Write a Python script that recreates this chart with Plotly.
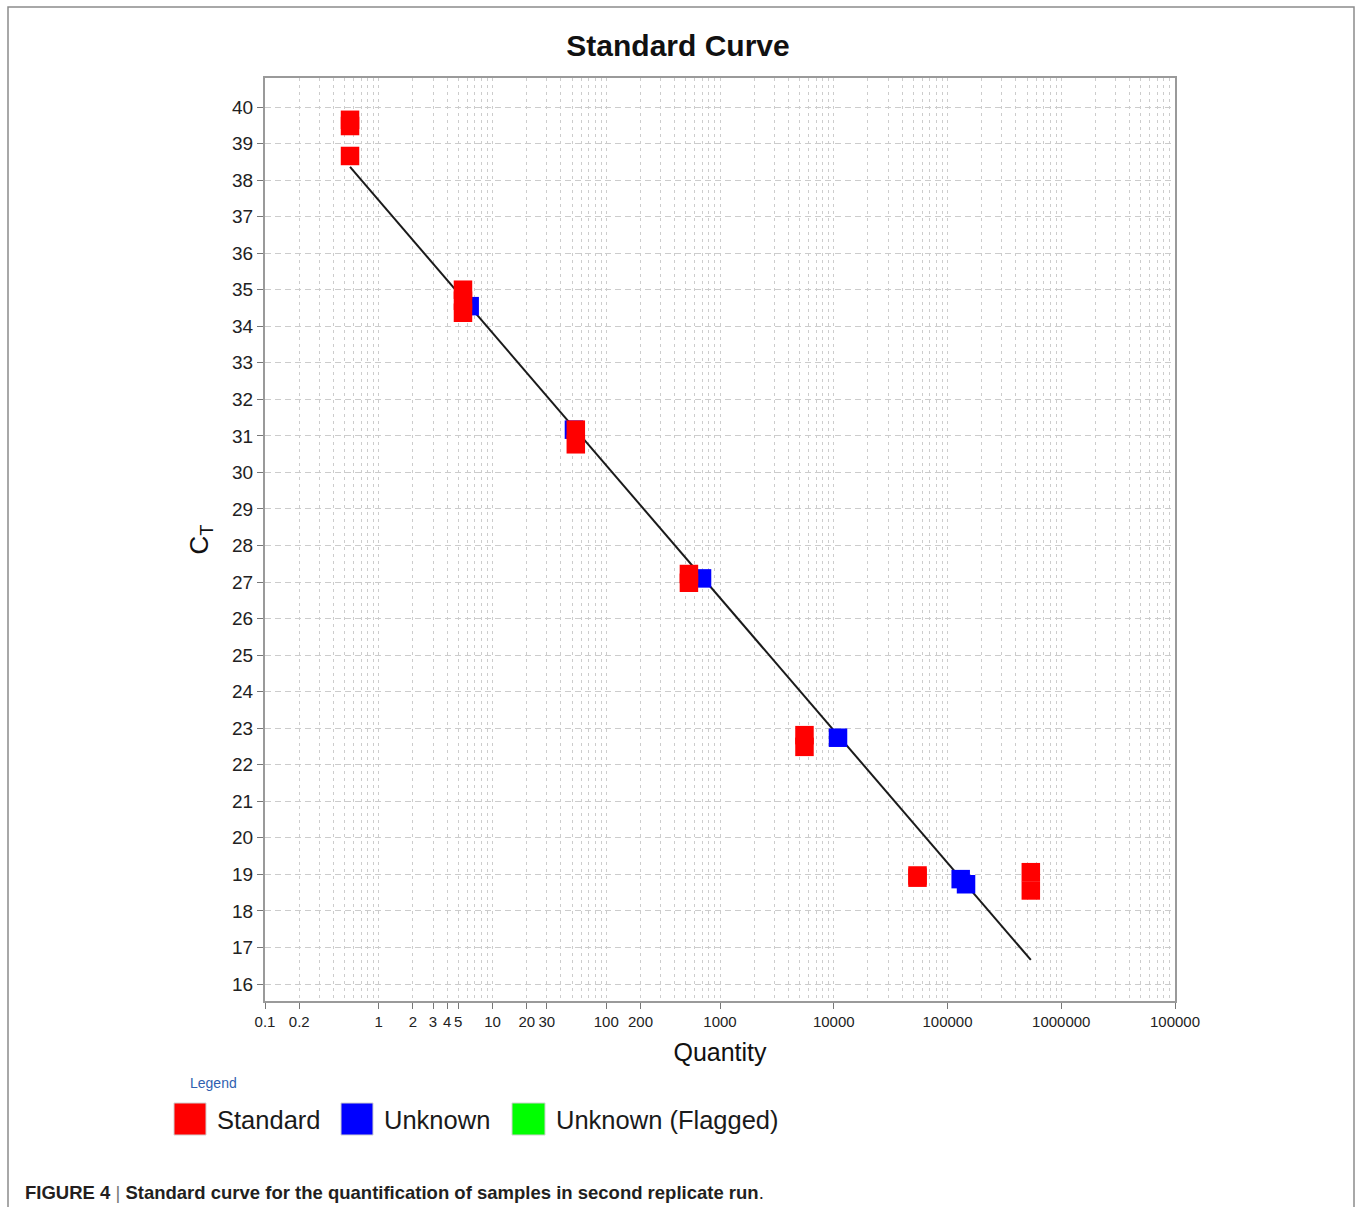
import plotly.graph_objects as go

# ---------------- data ----------------
std_qty = [0.559, 0.559, 0.559, 5.5, 5.5, 5.5, 54, 54, 533, 533, 5530, 5530, 54500, 54500, 540000, 540000]
std_ct = [39.65, 39.48, 38.66, 35.00, 34.70, 34.37, 31.17, 30.77, 27.22, 26.98, 22.81, 22.49, 18.97, 18.91, 19.06, 18.56]

unk_qty = [6.3, 52, 695, 10900, 130600, 145500]
unk_ct = [34.55, 31.17, 27.10, 22.74, 18.87, 18.73]

fit_qty = [0.559, 540000]
fit_ct = [38.36, 16.66]

x_tickvals = [0.1, 0.2, 1, 2, 3, 4, 5, 10, 20, 30, 100, 200, 1000, 10000, 100000, 1000000, 10000000]
x_ticktext = ["0.1", "0.2", "1", "2", "3", "4", "5", "10", "20", "30", "100", "200",
              "1000", "10000", "100000", "1000000", "100000"]
x_minor_vals = [m * 10.0 ** k for k in range(-1, 7) for m in range(1, 10)] + [1e7]
y_tickvals = list(range(16, 41))

legend_names = ["Standard", "Unknown", "Unknown (Flagged)"]
legend_colors = ["#ff0000", "#0000ff", "#00ff00"]

# ---------------- layout geometry (page pixels) ----------------
W, H = 1356, 1207
L, R, T, B = 265, 1175, 78, 1001


def px(x):
    return (x - L) / (R - L)


def py(y):
    return (B - y) / (B - T)


SANS = "Liberation Sans, Arial, sans-serif"

fig = go.Figure()

fig.add_trace(go.Scatter(
    x=fit_qty, y=fit_ct, mode="lines",
    line=dict(color="#1a1a1a", width=2), showlegend=False, hoverinfo="skip"))

fig.add_trace(go.Scatter(
    x=unk_qty, y=unk_ct, mode="markers", name=legend_names[1],
    marker=dict(symbol="square", size=18.5, color="#0000ff", line=dict(width=0)),
    showlegend=False))

fig.add_trace(go.Scatter(
    x=std_qty, y=std_ct, mode="markers", name=legend_names[0],
    marker=dict(symbol="square", size=18.5, color="#ff0000", line=dict(width=0)),
    showlegend=False))

shapes = []
annotations = []

# outer figure border
shapes.append(dict(type="rect", xref="paper", yref="paper",
                   x0=px(8), x1=px(1354), y0=py(1215), y1=py(7),
                   line=dict(color="#8c8c8c", width=1.5), layer="below"))

# manual legend
leg_boxes = [(174, 206), (341, 373), (512, 545)]
leg_text_x = [215, 382, 554]
for (x0, x1), tx, name, col in zip(leg_boxes, leg_text_x, legend_names, legend_colors):
    shapes.append(dict(type="rect", xref="paper", yref="paper",
                       x0=px(x0), x1=px(x1), y0=py(1135), y1=py(1103),
                       fillcolor=col, line=dict(color="#d0d0d0", width=1)))
    annotations.append(dict(xref="paper", yref="paper", x=px(tx), y=py(1120),
                            xanchor="left", yanchor="middle", showarrow=False,
                            text=name, font=dict(family=SANS, size=25.5, color="#1a1a1a")))

annotations.append(dict(xref="paper", yref="paper", x=px(188), y=py(1083),
                        xanchor="left", yanchor="middle", showarrow=False,
                        text="Legend", font=dict(family=SANS, size=14, color="#2f5fb0")))

# caption
annotations.append(dict(xref="paper", yref="paper", x=px(23), y=py(1192),
                        xanchor="left", yanchor="middle", showarrow=False,
                        text="<b>FIGURE 4</b> <span style='color:#777'>|</span> "
                             "<b>Standard curve for the quantification of samples in second replicate run</b>.",
                        font=dict(family=SANS, size=18.5, color="#231f20")))

grid_col = "#cccccc"

fig.update_layout(
    width=W, height=H,
    margin=dict(l=L, r=W - R, t=T, b=H - B, pad=0),
    paper_bgcolor="white", plot_bgcolor="white",
    showlegend=False,
    title=dict(text="<b>Standard Curve</b>", x=678 / W, xref="container",
               y=1 - 45 / H, yref="container", xanchor="center", yanchor="middle",
               font=dict(family=SANS, size=30, color="#111")),
    shapes=shapes,
    annotations=annotations,
    font=dict(family=SANS, color="#222"),
)

fig.update_xaxes(
    type="log", range=[-1, 7],
    tickmode="array", tickvals=x_tickvals, ticktext=x_ticktext, tickangle=0,
    tickfont=dict(family=SANS, size=15, color="#222"),
    ticks="outside", ticklen=6, tickcolor="#777", tickwidth=1,
    showline=True, linecolor="#9a9a9a", linewidth=2, mirror=True,
    showgrid=True, gridcolor=grid_col, gridwidth=1, griddash="3px,4px",
    minor=dict(tickmode="array", tickvals=x_minor_vals, showgrid=True,
               gridcolor=grid_col, gridwidth=1, griddash="3px,4px", ticks=""),
    zeroline=False,
    title=dict(text="Quantity", font=dict(family=SANS, size=25, color="#111"), standoff=14),
)

fig.update_yaxes(
    range=[15.535, 40.794],
    tickmode="array", tickvals=y_tickvals,
    tickfont=dict(family=SANS, size=19, color="#222"),
    ticks="outside", ticklen=6, tickcolor="#777", tickwidth=1,
    showline=True, linecolor="#9a9a9a", linewidth=2, mirror=True,
    showgrid=True, gridcolor=grid_col, gridwidth=1, griddash="6px,4px",
    zeroline=False,
    title=dict(text="C<sub>T</sub>", font=dict(family=SANS, size=26, color="#111"), standoff=16),
)

fig.write_html("out.html", config={"displayModeBar": False},
               post_script="document.body.style.margin='0';")
